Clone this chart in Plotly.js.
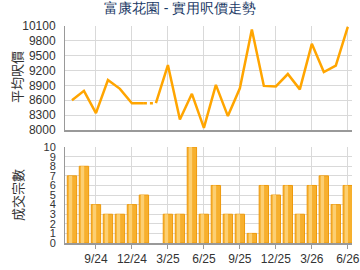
<!DOCTYPE html>
<html><head><meta charset="utf-8">
<script src="https://cdn.plot.ly/plotly-3.0.1.min.js"></script>
<style>html,body{margin:0;padding:0;background:#fff}#c{width:360px;height:270px}</style>
</head><body><div id="c"></div>
<script>
const months = ["7/24","8/24","9/24","10/24","11/24","12/24","1/25","2/25","3/25","4/25","5/25","6/25","7/25","8/25","9/25","10/25","11/25","12/25","1/26","2/26","3/26","4/26","5/26","6/26"];
const avgPrice = [8600,8790,8340,9010,8830,8540,8540,8540,9310,8210,8730,8040,8910,8280,8840,10030,8890,8880,9130,8820,9740,9170,9300,10080];
const deals = [7,8,4,3,3,4,5,0,3,3,10,3,6,3,3,1,6,5,6,3,6,7,4,6];
const tickLabels = ["9/24","12/24","3/25","6/25","9/25","12/25","3/26","6/26"];
const gapMonth = "2/25";

const idx = months.map((m,i)=>i);
const gi = months.indexOf(gapMonth);
const tickIdx = tickLabels.map(t=>months.indexOf(t));
const barY = deals.map(v => v > 0 ? v : null);

const lineColor = '#FFA500';
const traces = [
  {x: idx.slice(0,gi), y: avgPrice.slice(0,gi), type:'scatter', mode:'lines', line:{color:lineColor,width:2.5}, xaxis:'x', yaxis:'y'},
  {x: idx.slice(gi-1,gi+1), y: avgPrice.slice(gi-1,gi+1), type:'scatter', mode:'lines', line:{color:lineColor,width:2.5,dash:'dot'}, xaxis:'x', yaxis:'y'},
  {x: idx.slice(gi), y: avgPrice.slice(gi), type:'scatter', mode:'lines', line:{color:lineColor,width:2.5}, xaxis:'x', yaxis:'y'},
  {x: idx, y: barY, type:'bar', width:0.78, marker:{color:'#F7B02E', line:{color:'#EE9A0C', width:1}}, xaxis:'x2', yaxis:'y2'},
  {x: idx.map(i=>i-0.12), y: barY, type:'bar', width:0.28, marker:{color:'#FCCF72', line:{width:0}}, xaxis:'x2', yaxis:'y2'}
];

const font = {family:'"Liberation Sans", Arial, sans-serif', size:12, color:'#333'};
const xbase = {range:[-0.58,23.35], tickvals:tickIdx, ticktext:tickLabels, showgrid:true, gridcolor:'#d9d9d9', gridwidth:1, zeroline:false, showline:true, linecolor:'#999', linewidth:2, fixedrange:true};
const layout = {
  width:360, height:270, margin:{l:65,r:8,t:26,b:27},
  paper_bgcolor:'#fff', plot_bgcolor:'#fff', showlegend:false, barmode:'overlay', font:font,
  title:{text:'富康花園 - 實用呎價走勢', font:{family:'"Liberation Sans", Arial, sans-serif', size:14, color:'#1B3A66'}, x:0.5, xanchor:'center', y:0.99, yanchor:'top'},
  xaxis: Object.assign({}, xbase, {domain:[0,1], anchor:'y', showticklabels:false, ticks:''}),
  yaxis: {domain:[0.521,1], range:[8000,10100], tick0:8000, dtick:300, tickformat:'d', showgrid:true, gridcolor:'#d9d9d9', zeroline:false, showline:true, linecolor:'#999', linewidth:1, ticks:'', tickfont:font, anchor:'x', ticklabelstandoff:6},
  xaxis2: Object.assign({}, xbase, {domain:[0,1], anchor:'y2', ticks:'outside', ticklen:4, tickcolor:'#999', tickfont:font}),
  yaxis2: {domain:[0,0.442], range:[0,10], dtick:1, tickformat:'d', showgrid:true, gridcolor:'#d9d9d9', zeroline:false, showline:true, linecolor:'#999', linewidth:1, ticks:'', tickfont:Object.assign({}, font, {size:11}), anchor:'x2', ticklabelstandoff:6},
  annotations:[
    {text:'平均呎價', xref:'paper', yref:'paper', x:-0.167, y:0.765, textangle:-90, showarrow:false, xanchor:'center', yanchor:'middle', font:{family:'"Noto Sans CJK TC", sans-serif', size:13, color:'#333'}},
    {text:'成交宗數', xref:'paper', yref:'paper', x:-0.167, y:0.221, textangle:-90, showarrow:false, xanchor:'center', yanchor:'middle', font:{family:'"Noto Sans CJK TC", sans-serif', size:13, color:'#333'}}
  ]
};
Plotly.newPlot('c', traces, layout, {displayModeBar:false, staticPlot:true});
</script></body></html>
